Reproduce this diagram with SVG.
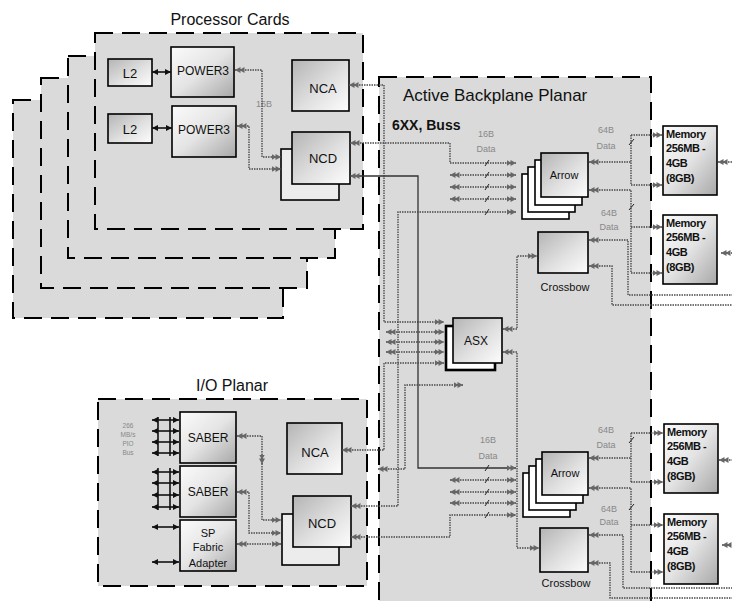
<svg xmlns="http://www.w3.org/2000/svg" width="732" height="601" viewBox="0 0 732 601">
<defs>
<style>
text{font-family:"Liberation Sans",Arial,sans-serif;fill:#111}
.panel{fill:#dadada;stroke:#000;stroke-width:2;stroke-dasharray:18 9}
.box{stroke:#000;stroke-width:1.6}
.ga{fill:url(#ga)}
.gb{fill:url(#gb)}
.wb{fill:#fff}
.conn{fill:none;stroke:#4a4a4a;stroke-width:1.4;stroke-dasharray:1.5 1}
.solid{fill:none;stroke:#333;stroke-width:1.3}
.bus{fill:none;stroke:#111;stroke-width:1.6}
.slash{stroke:#222;stroke-width:1}
.title{font-size:16px}
.lbl{font-size:13px;text-anchor:middle}
.small{font-size:9px;fill:#888;text-anchor:middle}
.tiny{font-size:6.5px;fill:#888;text-anchor:middle}
.mem{font-size:11px;font-weight:bold;letter-spacing:-0.4px}
</style>
<linearGradient id="ga" x1="0" y1="0" x2="1" y2="1">
<stop offset="0" stop-color="#fbfbfb"/><stop offset="0.5" stop-color="#e4e4e4"/><stop offset="1" stop-color="#a8a8a8"/>
</linearGradient>
<linearGradient id="gb" x1="0" y1="0" x2="1" y2="1">
<stop offset="0" stop-color="#b4b4b4"/><stop offset="0.55" stop-color="#e0e0e0"/><stop offset="1" stop-color="#fdfdfd"/>
</linearGradient>
<marker id="a" viewBox="0 0 10 7" refX="9.5" refY="3.5" markerWidth="10" markerHeight="7" markerUnits="userSpaceOnUse" orient="auto-start-reverse">
<path d="M0,0.5 L5,3.5 L0,6.5Z M4,0.5 L9.5,3.5 L4,6.5Z" fill="#666"/>
</marker>
<marker id="d" viewBox="0 0 6 6" refX="6" refY="3" markerWidth="6" markerHeight="6" markerUnits="userSpaceOnUse" orient="auto-start-reverse">
<path d="M0,0 L6,3 L0,6Z" fill="#111"/>
</marker>
</defs>
<rect width="732" height="601" fill="#fff"/>

<!-- Processor cards -->
<g id="processor-cards">
<text class="title" x="230" y="25" text-anchor="middle">Processor Cards</text>
<rect class="panel" x="13" y="100" width="270" height="218"/>
<rect class="panel" x="41" y="78" width="266" height="210"/>
<rect class="panel" x="68" y="56" width="267" height="202"/>
<rect class="panel" x="95" y="33" width="268" height="196"/>
<text class="small" x="264" y="107">16B</text>
</g>
<g id="l2-a"><rect class="box gb" x="108" y="59" width="44" height="27"/><text class="lbl" x="130" y="78">L2</text></g>
<g id="l2-b"><rect class="box gb" x="108" y="114" width="44" height="29"/><text class="lbl" x="130" y="134">L2</text></g>
<g id="power3-a"><rect class="box ga" x="171" y="47" width="63" height="50"/><text x="203" y="75" font-size="12" text-anchor="middle">POWER3</text></g>
<g id="power3-b"><rect class="box ga" x="172" y="106" width="64" height="51"/><text x="204" y="134" font-size="12" text-anchor="middle">POWER3</text></g>
<g id="nca-proc"><rect class="box gb" x="292" y="60" width="57" height="51"/><text class="lbl" x="323" y="93" font-size="14">NCA</text></g>
<g id="ncd-proc"><rect class="box" fill="#ececec" x="281" y="149" width="58" height="51"/><rect class="box gb" x="292" y="132" width="58" height="52"/><text class="lbl" x="323" y="163" font-size="14">NCD</text></g>

<!-- Backplane -->
<g id="backplane">
<rect class="panel" x="379" y="77" width="272" height="570"/>
<text x="403" y="101" font-size="17">Active Backplane Planar</text>
<text x="392" y="130" font-size="14" font-weight="bold">6XX, Buss</text>
<text class="small" x="486" y="137">16B</text><text class="small" x="486" y="152">Data</text>
<text class="small" x="488" y="443">16B</text><text class="small" x="488" y="459">Data</text>
<text class="small" x="606" y="133">64B</text><text class="small" x="606" y="149">Data</text>
<text class="small" x="609" y="216">64B</text><text class="small" x="609" y="230">Data</text>
<text class="small" x="606" y="433">64B</text><text class="small" x="606" y="448">Data</text>
<text class="small" x="609" y="512">64B</text><text class="small" x="609" y="525">Data</text>
</g>
<g id="arrow-top">
<rect class="box wb" x="522" y="174" width="47" height="45"/>
<rect class="box wb" x="528" y="167" width="47" height="45"/>
<rect class="box wb" x="535" y="160" width="47" height="45"/>
<rect class="box gb" x="541" y="153" width="47" height="44"/>
<text x="564" y="179" font-size="11" text-anchor="middle">Arrow</text>
</g>
<g id="crossbow-top"><rect class="box gb" x="538" y="232" width="50" height="41"/><text x="565" y="291" font-size="11" text-anchor="middle">Crossbow</text></g>
<g id="asx"><rect x="446" y="326" width="49" height="44" fill="#fff" stroke="#000" stroke-width="2.6"/><rect class="box gb" x="453" y="318" width="49" height="45"/><text x="476" y="345" font-size="12" text-anchor="middle">ASX</text></g>
<g id="arrow-bottom">
<rect class="box wb" x="523" y="473" width="47" height="44"/>
<rect class="box wb" x="529" y="466" width="47" height="44"/>
<rect class="box wb" x="536" y="459" width="47" height="44"/>
<rect class="box gb" x="542" y="452" width="46" height="43"/>
<text x="565" y="477" font-size="11" text-anchor="middle">Arrow</text>
</g>
<g id="crossbow-bottom"><rect class="box gb" x="540" y="528" width="48" height="44"/><text x="566" y="587" font-size="11" text-anchor="middle">Crossbow</text></g>

<!-- Memories -->
<g id="memory-1"><rect class="box ga" x="663" y="126" width="54" height="69"/><text class="mem" x="666" y="138">Memory</text><text class="mem" x="666" y="152">256MB -</text><text class="mem" x="666" y="167">4GB</text><text class="mem" x="666" y="182">(8GB)</text></g>
<g id="memory-2"><rect class="box ga" x="663" y="215" width="54" height="69"/><text class="mem" x="666" y="227">Memory</text><text class="mem" x="666" y="241">256MB -</text><text class="mem" x="666" y="256">4GB</text><text class="mem" x="666" y="271">(8GB)</text></g>
<g id="memory-3"><rect class="box ga" x="664" y="424" width="54" height="69"/><text class="mem" x="667" y="436">Memory</text><text class="mem" x="667" y="450">256MB -</text><text class="mem" x="667" y="465">4GB</text><text class="mem" x="667" y="480">(8GB)</text></g>
<g id="memory-4"><rect class="box ga" x="664" y="514" width="54" height="70"/><text class="mem" x="667" y="526">Memory</text><text class="mem" x="667" y="540">256MB -</text><text class="mem" x="667" y="555">4GB</text><text class="mem" x="667" y="570">(8GB)</text></g>

<!-- I/O planar -->
<g id="io-planar">
<text class="title" x="232" y="391" text-anchor="middle">I/O Planar</text>
<rect class="panel" x="98" y="399" width="269" height="187"/>
<text class="tiny" x="128" y="428">266</text>
<text class="tiny" x="128" y="437">MB/s</text>
<text class="tiny" x="128" y="446">PIO</text>
<text class="tiny" x="128" y="455">Bus</text>
</g>
<g id="saber-1"><rect class="box ga" x="180" y="412" width="56" height="51"/><text x="208" y="442" font-size="12" text-anchor="middle">SABER</text></g>
<g id="saber-2"><rect class="box ga" x="180" y="466" width="56" height="51"/><text x="208" y="496" font-size="12" text-anchor="middle">SABER</text></g>
<g id="sp-fabric-adapter"><rect class="box ga" x="180" y="520" width="56" height="51"/><text x="208" y="537" font-size="11" text-anchor="middle">SP</text><text x="208" y="551" font-size="11" text-anchor="middle">Fabric</text><text x="208" y="567" font-size="11" text-anchor="middle">Adapter</text></g>
<g id="nca-io"><rect class="box gb" x="287" y="423" width="55" height="51"/><text class="lbl" x="315" y="457" font-size="14">NCA</text></g>
<g id="ncd-io"><rect class="box" fill="#ececec" x="282" y="514" width="57" height="51"/><rect class="box gb" x="293" y="496" width="58" height="51"/><text class="lbl" x="322" y="528" font-size="14">NCD</text></g>

<!-- Connectors -->
<g id="connectors">
<path class="bus" d="M152,72 H171" marker-start="url(#d)" marker-end="url(#d)"/>
<path class="bus" d="M152,128 H172" marker-start="url(#d)" marker-end="url(#d)"/>
<path class="conn" d="M235,70 H262 V157 H281" marker-start="url(#a)" marker-end="url(#a)"/>
<path class="conn" d="M237,126 H249 V169 H281" marker-start="url(#a)" marker-end="url(#a)"/>
<path class="conn" d="M349,85 H384 V322 H444" marker-start="url(#a)" marker-end="url(#a)"/>
<path class="conn" d="M350,143 H450 V163 H516" marker-start="url(#a)" marker-end="url(#a)"/>
<path class="solid" d="M350,176 H418 V468 H516" marker-start="url(#a)" marker-end="url(#a)"/>
<path class="conn" d="M450,175 H516" marker-start="url(#a)" marker-end="url(#a)"/>
<path class="conn" d="M450,187 H516" marker-start="url(#a)" marker-end="url(#a)"/>
<path class="conn" d="M450,199 H516" marker-start="url(#a)" marker-end="url(#a)"/>
<path class="conn" d="M351,506 H398 V212 H516" marker-start="url(#a)" marker-end="url(#a)"/>
<path class="conn" d="M386,332 H444" marker-start="url(#a)" marker-end="url(#a)"/>
<path class="conn" d="M386,342 H444" marker-start="url(#a)" marker-end="url(#a)"/>
<path class="conn" d="M386,352 H444" marker-start="url(#a)" marker-end="url(#a)"/>
<path class="conn" d="M342,450 H384 V363 H444" marker-start="url(#a)" marker-end="url(#a)"/>
<path class="conn" d="M378,469 H405 V385 H463" marker-start="url(#a)" marker-end="url(#a)"/>
<path class="conn" d="M503,329 H517 V256 H537" marker-start="url(#a)" marker-end="url(#a)"/>
<path class="conn" d="M503,352 H517 V548 H539" marker-start="url(#a)" marker-end="url(#a)"/>
<path class="conn" d="M450,480 H516" marker-start="url(#a)" marker-end="url(#a)"/>
<path class="conn" d="M450,492 H516" marker-start="url(#a)" marker-end="url(#a)"/>
<path class="conn" d="M450,503 H516" marker-start="url(#a)" marker-end="url(#a)"/>
<path class="conn" d="M351,537 H450 V515 H516" marker-start="url(#a)" marker-end="url(#a)"/>
<path class="slash" d="M485,166 L489,160 M485,178 L489,172 M485,190 L489,184 M485,202 L489,196 M485,215 L489,209 M485,471 L489,465 M485,483 L489,477 M485,495 L489,489 M485,506 L489,500 M485,518 L489,512"/>
<path class="conn" d="M589,162 H631" marker-start="url(#a)"/>
<path class="conn" d="M631,135 V185"/>
<path class="conn" d="M631,135 H662" marker-end="url(#a)"/>
<path class="conn" d="M631,185 H662" marker-end="url(#a)"/>
<path class="conn" d="M589,190 H631 V273" marker-start="url(#a)"/>
<path class="conn" d="M631,227 H662" marker-end="url(#a)"/>
<path class="conn" d="M631,273 H662" marker-end="url(#a)"/>
<path class="conn" d="M589,240 H628 V295 H732" marker-start="url(#a)"/>
<path class="conn" d="M589,266 H612 V305 H732" marker-start="url(#a)"/>
<path class="conn" d="M718,162 H732" marker-start="url(#a)"/>
<path class="conn" d="M721,253 H732" marker-start="url(#a)"/>
<path class="conn" d="M589,458 H631" marker-start="url(#a)"/>
<path class="conn" d="M631,433 V482"/>
<path class="conn" d="M631,433 H663" marker-end="url(#a)"/>
<path class="conn" d="M631,482 H663" marker-end="url(#a)"/>
<path class="conn" d="M589,488 H631 V572" marker-start="url(#a)"/>
<path class="conn" d="M631,525 H663" marker-end="url(#a)"/>
<path class="conn" d="M631,572 H663" marker-end="url(#a)"/>
<path class="conn" d="M589,535 H623 V588 H732" marker-start="url(#a)"/>
<path class="conn" d="M589,563 H610 V598 H732" marker-start="url(#a)"/>
<path class="conn" d="M719,460 H732" marker-start="url(#a)"/>
<path class="conn" d="M722,545 H732" marker-start="url(#a)"/>
<path class="slash" d="M629,145 L634,139 M629,210 L634,204 M629,443 L634,437 M629,510 L634,504"/>
<path class="conn" d="M237,436 H262 V520 H281" marker-start="url(#a)" marker-end="url(#a)"/>
<path class="conn" d="M262,458 V464" marker-end="url(#a)"/>
<path class="conn" d="M237,492 H249 V533 H281" marker-start="url(#a)" marker-end="url(#a)"/>
<path class="conn" d="M237,544 H281" marker-start="url(#a)" marker-end="url(#a)"/>
<path class="bus" d="M158,417 V456 M170,417 V456 M158,468 V510 M170,468 V510"/>
<path class="bus" d="M152,420 H179" marker-start="url(#d)" marker-end="url(#d)"/>
<path class="bus" d="M152,431 H179" marker-start="url(#d)" marker-end="url(#d)"/>
<path class="bus" d="M152,442 H179" marker-start="url(#d)" marker-end="url(#d)"/>
<path class="bus" d="M152,453 H179" marker-start="url(#d)" marker-end="url(#d)"/>
<path class="bus" d="M152,472 H179" marker-start="url(#d)" marker-end="url(#d)"/>
<path class="bus" d="M152,483 H179" marker-start="url(#d)" marker-end="url(#d)"/>
<path class="bus" d="M152,495 H179" marker-start="url(#d)" marker-end="url(#d)"/>
<path class="bus" d="M152,507 H179" marker-start="url(#d)" marker-end="url(#d)"/>
<path class="bus" d="M152,527 H179" marker-start="url(#d)" marker-end="url(#d)"/>
<path class="bus" d="M152,562 H179" marker-start="url(#d)" marker-end="url(#d)"/>
</g>
</svg>
